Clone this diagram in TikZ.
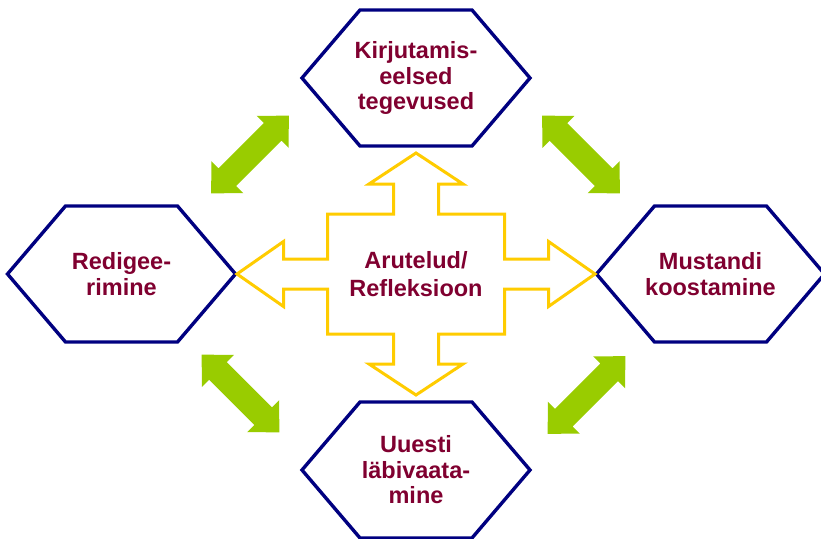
\documentclass[tikz,border=0pt]{standalone}
\usepackage{fontspec}
\setmainfont{Liberation Sans}
\usetikzlibrary{positioning}
\definecolor{hexnavy}{HTML}{000080}
\definecolor{wine}{HTML}{800030}
\definecolor{sun}{HTML}{FFCC00}
\definecolor{leaf}{HTML}{99CC00}
\tikzset{
  hexbox/.style={minimum width=228pt, minimum height=136pt, inner sep=0pt, outer sep=0pt,
                 align=center, text=wine, font=\fontsize{23.5}{25.5}\selectfont\bfseries},
  crossbox/.style={minimum width=177pt, minimum height=120pt, inner sep=0pt, outer sep=0pt,
                   align=center, text=wine, font=\fontsize{23.5}{28}\selectfont\bfseries},
  hexline/.style={draw=hexnavy, line width=3.4pt, line join=miter},
  crossline/.style={draw=sun, line width=3pt, line join=miter},
  leafarr/.style={fill=leaf}}
% hexagon round a named node
\newcommand{\hexframe}[1]{%
  \draw[hexline] (#1.west) -- ([xshift=58pt]#1.north west) -- ([xshift=-58pt]#1.north east)
    -- (#1.east) -- ([xshift=-58pt]#1.south east) -- ([xshift=58pt]#1.south west) -- cycle;}
% green double arrow: centre, angle
\newcommand{\leafarrow}[2]{%
  \fill[leafarr, shift={#1}, rotate=#2] (-55,0) -- (-32,-22.5) -- (-32,-12.5) -- (32,-12.5)
    -- (32,-22.5) -- (55,0) -- (32,22.5) -- (32,12.5) -- (-32,12.5) -- (-32,22.5) -- cycle;}
\begin{document}
\begin{tikzpicture}[x=1pt, y=-1pt, node distance=68pt and 92pt]
    \clip (0,0) rectangle (821,538);
    \fill[white] (0,0) rectangle (821,538);
    \node[crossbox] (arut) at (416,274) {Arutelud/\\Refleksioon};
    \node[hexbox, above=of arut] (eel) {Kirjutamis-\\eelsed\\tegevused};
    \node[hexbox, right=of arut] (must) {Mustandi\\koostamine};
    \node[hexbox, below=of arut] (uues) {Uuesti\\läbivaata-\\mine};
    \node[hexbox, left=of arut] (redi) {Redigee-\\rimine};
    \hexframe{eel}
    \hexframe{must}
    \hexframe{uues}
    \hexframe{redi}
    % four-way arrow round the centre
    \draw[crossline, shift={(arut.center)}]
      (0,-121) -- (47,-90) -- (22.5,-90) -- (22.5,-60) -- (88.5,-60) -- (88.5,-15)
      -- (132.5,-15) -- (132.5,-32.5) -- (179,0) -- (132.5,32.5) -- (132.5,15) -- (88.5,15)
      -- (88.5,60) -- (22.5,60) -- (22.5,90) -- (47,90) -- (0,121) -- (-47,90) -- (-22.5,90)
      -- (-22.5,60) -- (-88.5,60) -- (-88.5,15) -- (-132.5,15) -- (-132.5,32.5) -- (-179,0)
      -- (-132.5,-32.5) -- (-132.5,-15) -- (-88.5,-15) -- (-88.5,-60) -- (-22.5,-60)
      -- (-22.5,-90) -- (-47,-90) -- cycle;
    \leafarrow{(250,154.5)}{45}
    \leafarrow{(581,154.5)}{-45}
    \leafarrow{(240.5,393.5)}{-45}
    \leafarrow{(586.5,395)}{45}
  \end{tikzpicture}
\end{document}
